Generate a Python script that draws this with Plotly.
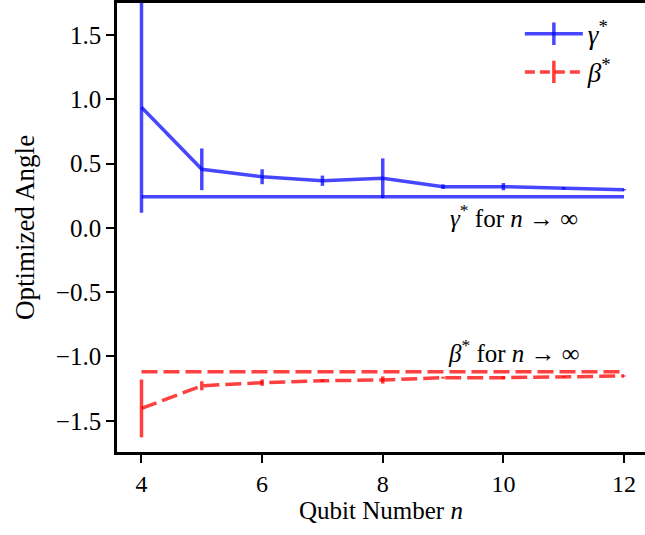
import plotly.graph_objects as go

# ---- data ----
qubits = [4, 5, 6, 7, 8, 9, 10, 11, 12]
gamma_vals = [0.937, 0.455, 0.397, 0.366, 0.385, 0.320, 0.320, 0.307, 0.296]
gamma_err = [0.82, 0.162, 0.058, 0.040, 0.155, 0.018, 0.028, 0.010, 0.006]
beta_vals = [-1.404, -1.228, -1.204, -1.189, -1.183, -1.165, -1.165, -1.158, -1.152]
beta_err = [0.225, 0.035, 0.025, 0.010, 0.028, 0.008, 0.010, 0.006, 0.005]
gamma_inf = 0.242
beta_inf = -1.119
asym_x = [4, 12]
x_ticks = [4, 6, 8, 10, 12]
y_ticks = [-1.5, -1.0, -0.5, 0.0, 0.5, 1.0, 1.5]

BLUE = "rgba(0,0,255,0.72)"
RED = "rgba(255,0,0,0.75)"
FONT = "Liberation Serif"
DASH = "16px,6px"

fig = go.Figure()

# asymptotic lines
fig.add_trace(go.Scatter(x=asym_x, y=[gamma_inf] * 2, mode="lines",
                         line=dict(color=BLUE, width=3.5), showlegend=False, hoverinfo="skip"))
fig.add_trace(go.Scatter(x=asym_x, y=[beta_inf] * 2, mode="lines",
                         line=dict(color=RED, width=3.5, dash=DASH), showlegend=False, hoverinfo="skip"))

# data with error bars
fig.add_trace(go.Scatter(x=qubits, y=gamma_vals, mode="lines",
                         line=dict(color=BLUE, width=3.5),
                         error_y=dict(type="data", array=gamma_err, visible=True,
                                      color=BLUE, thickness=3.5, width=0),
                         showlegend=False))
fig.add_trace(go.Scatter(x=qubits, y=beta_vals, mode="lines",
                         line=dict(color=RED, width=3.5, dash=DASH),
                         error_y=dict(type="data", array=beta_err, visible=True,
                                      color=RED, thickness=3.5, width=0),
                         showlegend=False))

# legend entries
fig.add_trace(go.Scatter(x=[None], y=[None], mode="lines+markers", name="<i>γ</i><sup>*</sup>",
                         line=dict(color=BLUE, width=3.5),
                         marker=dict(symbol="line-ns", size=16, color=BLUE,
                                     line=dict(width=3.5, color=BLUE))))
fig.add_trace(go.Scatter(x=[None], y=[None], mode="lines+markers", name="<i>β</i><sup>*</sup>",
                         line=dict(color=RED, width=3.5, dash="10px,5px"),
                         marker=dict(symbol="line-ns", size=16, color=RED,
                                     line=dict(width=3.5, color=RED))))

fig.add_annotation(x=10.18, y=0.095, text="<i>γ</i><sup>*</sup> for <i>n</i> → ∞",
                   showarrow=False, font=dict(family=FONT, size=25, color="black"))
fig.add_annotation(x=10.18, y=-0.955, text="<i>β</i><sup>*</sup> for <i>n</i> → ∞",
                   showarrow=False, font=dict(family=FONT, size=25, color="black"))

fig.update_layout(
    width=645, height=535,
    margin=dict(l=117, r=0, t=3, b=83),
    paper_bgcolor="white", plot_bgcolor="white",
    font=dict(family=FONT, size=24, color="black"),
    showlegend=True,
    legend=dict(x=0.763, y=0.985, xanchor="left", yanchor="top", itemwidth=58,
                bgcolor="rgba(0,0,0,0)", font=dict(family=FONT, size=27)),
)
fig.update_xaxes(range=[3.594, 12.348], tickvals=x_ticks, ticktext=[str(v) for v in x_ticks],
                 showgrid=False, zeroline=False, showline=True, mirror=True,
                 linecolor="black", linewidth=2.7, ticks="outside", ticklen=8,
                 tickwidth=2, tickcolor="black",
                 title=dict(text="Qubit Number <i>n</i>", font=dict(size=25), standoff=4))
fig.update_yaxes(range=[-1.743, 1.748], tickvals=y_ticks,
                 ticktext=[("−" if v < 0 else "") + f"{abs(v):.1f}" for v in y_ticks],
                 showgrid=False, zeroline=False, showline=True, mirror=False,
                 linecolor="black", linewidth=2.7, ticks="outside", ticklen=8,
                 tickwidth=2, tickcolor="black", tickfont=dict(size=25),
                 title=dict(text="Optimized Angle", font=dict(size=27), standoff=14))

fig.write_html("out.html", config={"displayModeBar": False},
               post_script="document.body.style.margin='0';document.body.style.overflow='hidden';")
